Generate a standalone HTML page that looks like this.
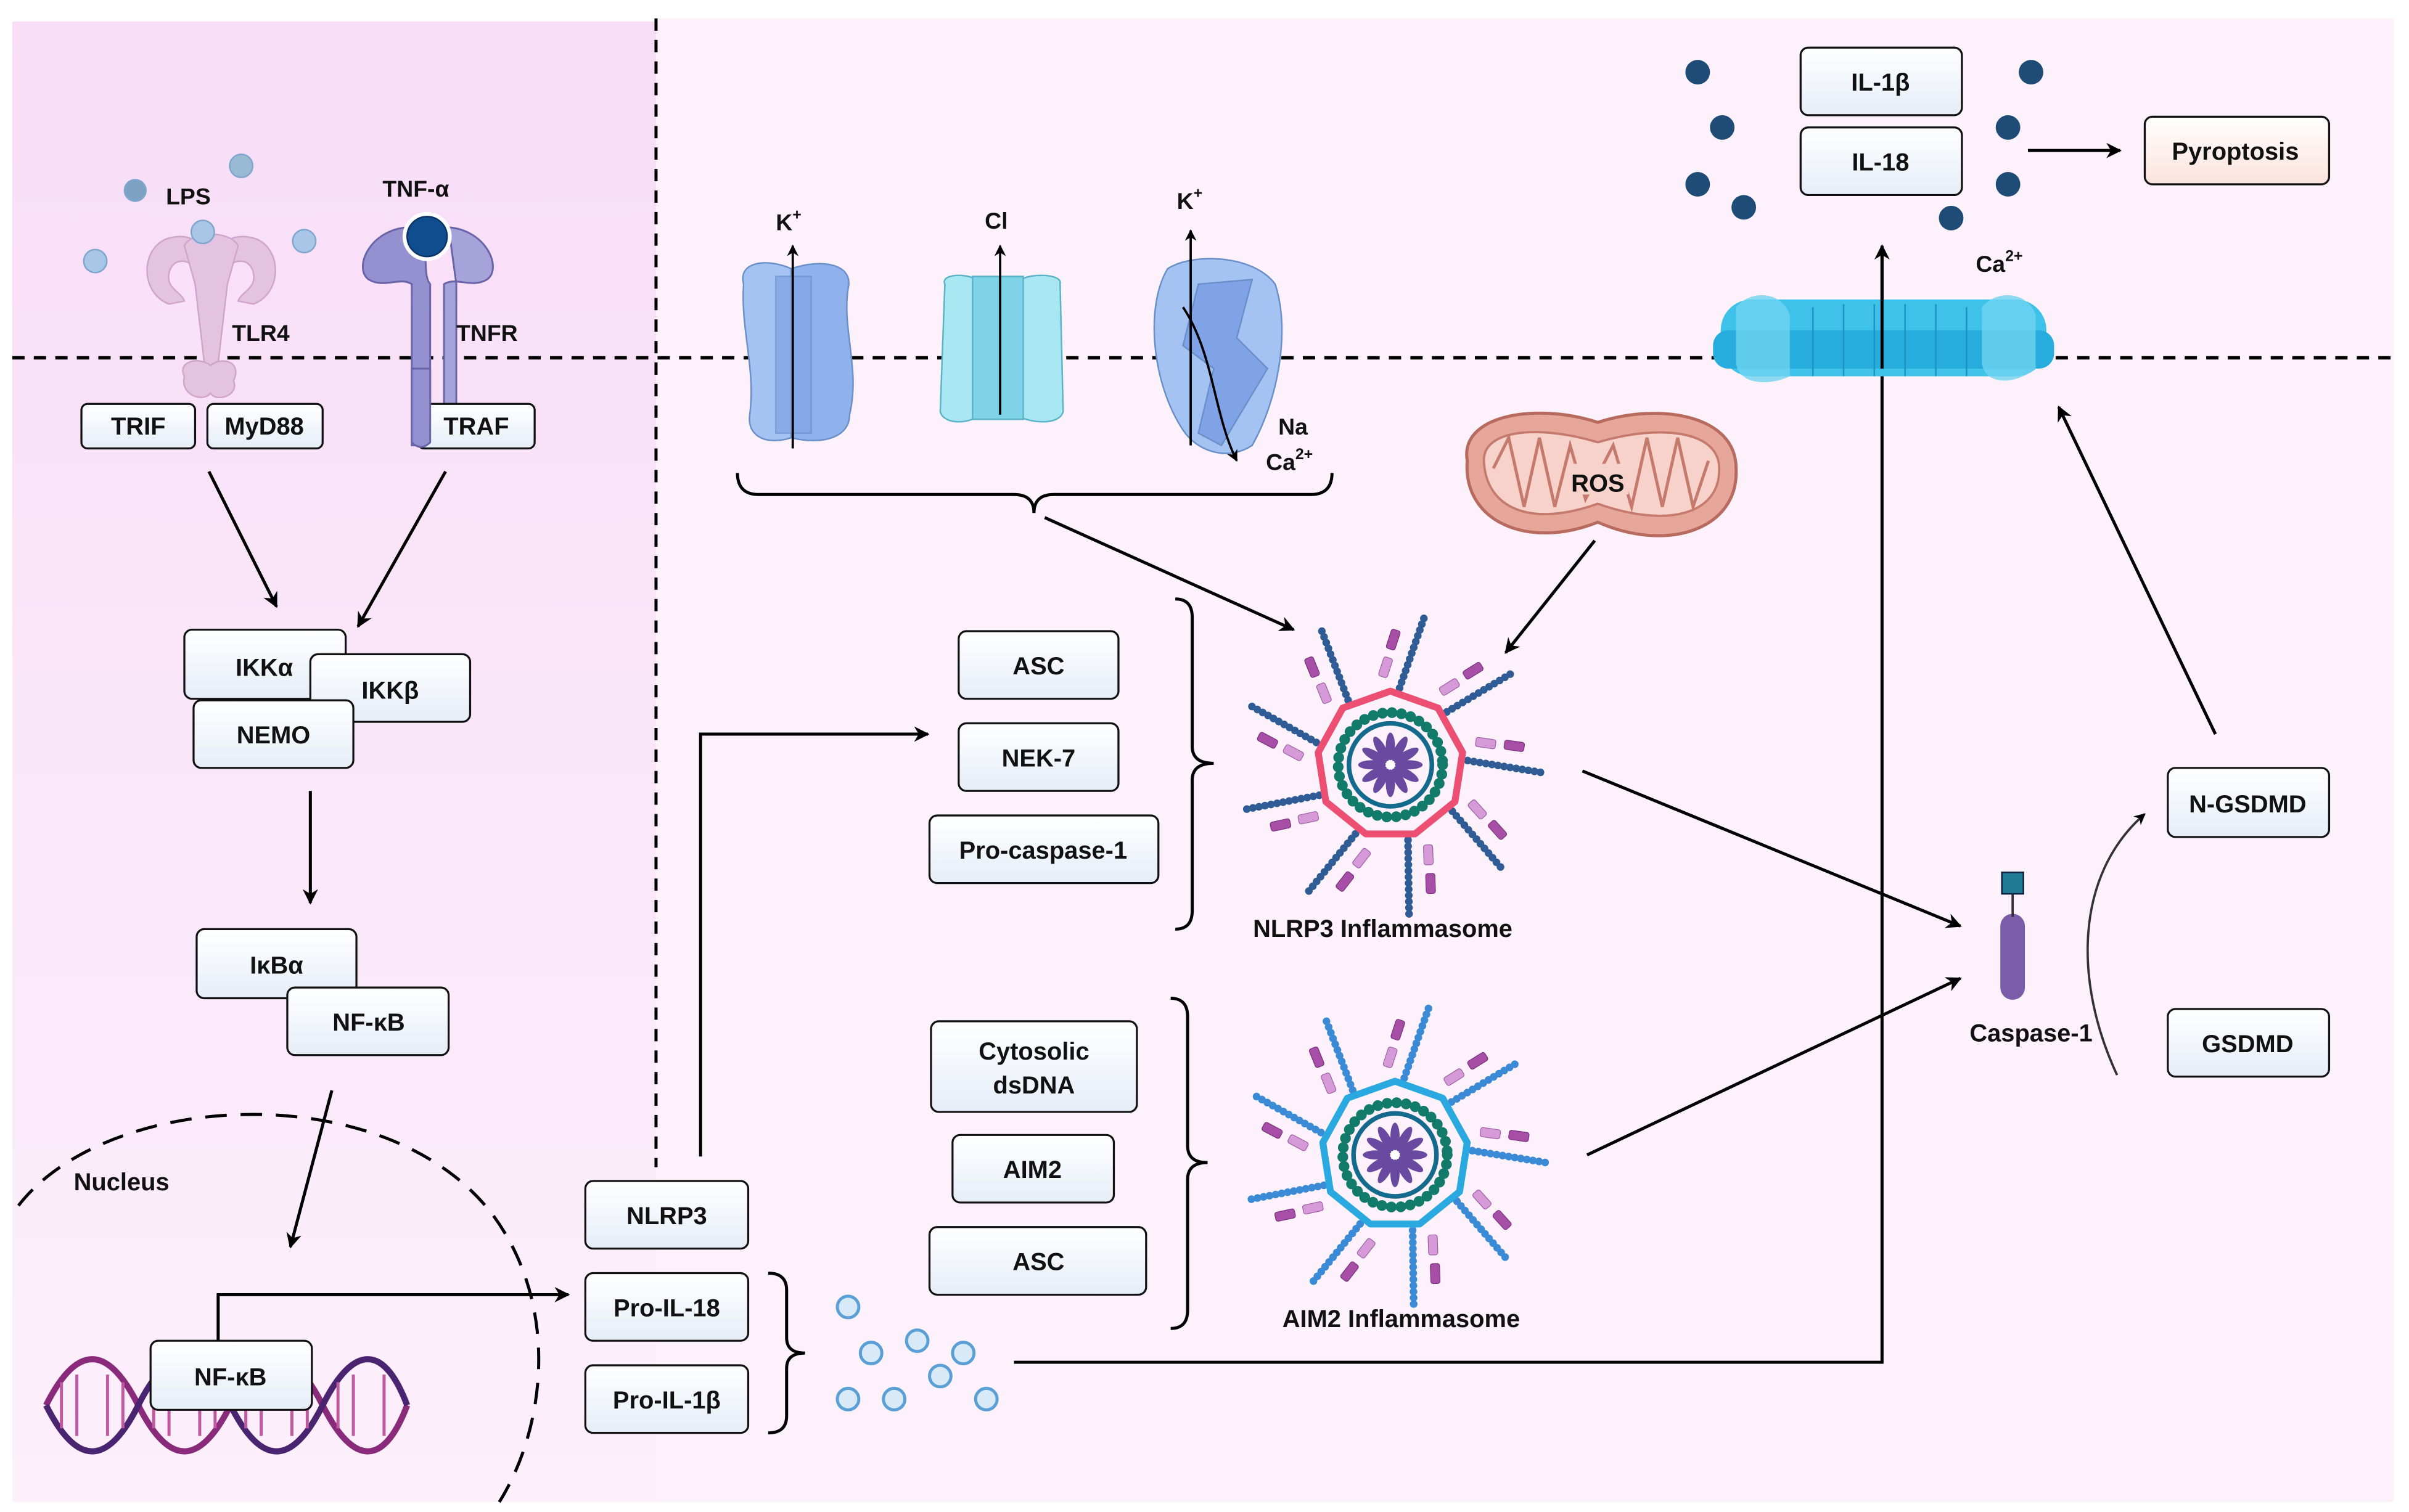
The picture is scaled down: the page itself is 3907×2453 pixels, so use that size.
<!DOCTYPE html>
<html><head><meta charset="utf-8"><style>
html,body{margin:0;padding:0;background:#fff;}
svg{display:block;}
text{font-family:"Liberation Sans",Arial,sans-serif;font-weight:bold;fill:#111;}
</style></head><body>
<svg width="3907" height="2453" viewBox="0 0 1568 984.5" preserveAspectRatio="none" xmlns="http://www.w3.org/2000/svg">
<defs>
<linearGradient id="lp" x1="0" y1="0" x2="0" y2="1"><stop offset="0" stop-color="#f8ddf7"/><stop offset="1" stop-color="#fcf0fb"/></linearGradient>
<linearGradient id="bx" x1="0" y1="0" x2="0" y2="1"><stop offset="0" stop-color="#ffffff"/><stop offset="1" stop-color="#e6edf8"/></linearGradient>
<linearGradient id="pk" x1="0" y1="0" x2="0" y2="1"><stop offset="0" stop-color="#ffffff"/><stop offset="1" stop-color="#fbe2dc"/></linearGradient>
<marker id="ar" viewBox="0 0 10 10" refX="9" refY="5" markerWidth="5" markerHeight="5" orient="auto-start-reverse"><path d="M0,0 L10,5 L0,10 L3,5z" fill="#000"/></marker>
<g id="rayN">
 <line x1="6" y1="-50" x2="22" y2="-96" stroke="#2f5c94" stroke-width="5" stroke-dasharray="0 4" stroke-linecap="round"/>
 <rect x="-6" y="-70" width="6" height="13" rx="1.5" fill="#d79ad8" stroke="#a060a8" stroke-width=".5" transform="rotate(18 -3 -64)"/>
 <rect x="-1" y="-88" width="6" height="13" rx="1.5" fill="#a74ea6" stroke="#7a3080" stroke-width=".5" transform="rotate(18 2 -82)"/>
</g>
<g id="rayA">
 <line x1="6" y1="-50" x2="22" y2="-96" stroke="#3b8ad6" stroke-width="5" stroke-dasharray="0 4" stroke-linecap="round"/>
 <rect x="-6" y="-70" width="6" height="13" rx="1.5" fill="#d79ad8" stroke="#a060a8" stroke-width=".5" transform="rotate(18 -3 -64)"/>
 <rect x="-1" y="-88" width="6" height="13" rx="1.5" fill="#a74ea6" stroke="#7a3080" stroke-width=".5" transform="rotate(18 2 -82)"/>
</g>
<g id="core">
 <circle r="34" fill="none" stroke="#127a6a" stroke-width="7" stroke-dasharray="0 6.2" stroke-linecap="round"/>
 <circle r="27" fill="none" stroke="#136a8c" stroke-width="3"/>
 <g fill="#6a4aa0">
  <ellipse cx="0" cy="-12" rx="3" ry="9"/><ellipse cx="0" cy="-12" rx="3" ry="9" transform="rotate(30)"/><ellipse cx="0" cy="-12" rx="3" ry="9" transform="rotate(60)"/><ellipse cx="0" cy="-12" rx="3" ry="9" transform="rotate(90)"/><ellipse cx="0" cy="-12" rx="3" ry="9" transform="rotate(120)"/><ellipse cx="0" cy="-12" rx="3" ry="9" transform="rotate(150)"/><ellipse cx="0" cy="-12" rx="3" ry="9" transform="rotate(180)"/><ellipse cx="0" cy="-12" rx="3" ry="9" transform="rotate(210)"/><ellipse cx="0" cy="-12" rx="3" ry="9" transform="rotate(240)"/><ellipse cx="0" cy="-12" rx="3" ry="9" transform="rotate(270)"/><ellipse cx="0" cy="-12" rx="3" ry="9" transform="rotate(300)"/><ellipse cx="0" cy="-12" rx="3" ry="9" transform="rotate(330)"/>
 </g>
 <circle r="3" fill="#fff"/>
</g>
</defs>

<rect width="1568" height="984.5" fill="#fff"/>
<rect x="427" y="12" width="1131" height="966" fill="#fdf1fb"/>
<rect x="8" y="14" width="419" height="964" fill="url(#lp)"/>

<line x1="8" y1="233" x2="1560" y2="233" stroke="#000" stroke-width="2.2" stroke-dasharray="8 6"/>
<line x1="427" y1="12" x2="427" y2="760" stroke="#000" stroke-width="2" stroke-dasharray="8 6"/>

<!-- LPS / TLR4 -->
<g fill="#e4c3e0" stroke="#cfa5cc" stroke-width="1">
 <path d="M110,198 C90,190 92,160 110,155 C130,150 135,165 128,175 C122,168 112,168 110,178 C108,188 118,190 120,196z"/>
 <path d="M165,198 C185,190 183,160 165,155 C145,150 140,165 147,175 C153,168 163,168 165,178 C167,188 157,190 155,196z"/>
 <path d="M120,160 C125,150 150,150 155,160 L148,185 L141,245 L134,245 L127,185z"/>
 <path d="M120,245 C115,235 130,232 137,238 C144,232 158,235 152,248 C156,258 140,262 137,256 C133,262 117,258 120,245z"/>
</g>
<g fill="#a9c6e6" stroke="#7ea6cf" stroke-width="1">
 <circle cx="88" cy="124" r="7" fill="#7ea3c2"/><circle cx="157" cy="108" r="7.5" fill="#9ab9d3"/>
 <circle cx="62" cy="170" r="7.5"/><circle cx="132" cy="151" r="7.5"/><circle cx="198" cy="157" r="7.5"/>
</g>
<text x="108" y="133" font-size="15">LPS</text>
<text x="151" y="222" font-size="15">TLR4</text>

<!-- TNFR -->
<g fill="#9590cf" stroke="#6a64a8" stroke-width="1.2">
 <path d="M265,148 C240,150 230,175 240,182 C250,188 260,180 268,185 L268,290 L280,290 L280,185 C276,180 278,172 276,160z"/>
 <path d="M292,148 C317,150 327,175 317,182 C307,188 297,180 289,185 L289,265 L297,265 L297,185z" fill="#a6a2da"/>
</g>
<circle cx="278" cy="154" r="16" fill="#fff"/>
<circle cx="278" cy="154" r="13" fill="#0f4d8e" stroke="#0a3466" stroke-width="1"/>
<text x="249" y="128" font-size="15">TNF-α</text>
<text x="297" y="222" font-size="15">TNFR</text>

<!-- DNA -->
<g fill="none" stroke-width="4">
 <path d="M30,915 C50,875 70,875 90,915 C110,955 130,955 150,915 C170,875 190,875 210,915 C230,955 250,955 265,915" stroke="#8a2a7a"/>
 <path d="M30,915 C50,955 70,955 90,915 C110,875 130,875 150,915 C170,955 190,955 210,915 C230,875 250,875 265,915" stroke="#4a2470"/>
</g>
<g stroke="#c05aa0" stroke-width="2">
 <line x1="40" y1="900" x2="40" y2="930"/><line x1="50" y1="895" x2="50" y2="935"/><line x1="70" y1="895" x2="70" y2="935"/><line x1="80" y1="900" x2="80" y2="930"/>
 <line x1="100" y1="900" x2="100" y2="930"/><line x1="110" y1="895" x2="110" y2="935"/><line x1="130" y1="895" x2="130" y2="935"/><line x1="140" y1="900" x2="140" y2="930"/>
 <line x1="160" y1="900" x2="160" y2="930"/><line x1="170" y1="895" x2="170" y2="935"/><line x1="190" y1="895" x2="190" y2="935"/><line x1="200" y1="900" x2="200" y2="930"/>
 <line x1="220" y1="900" x2="220" y2="930"/><line x1="230" y1="895" x2="230" y2="935"/><line x1="250" y1="895" x2="250" y2="935"/>
</g>

<!-- boxes -->
<g fill="url(#bx)" stroke="#111" stroke-width="1.3">
 <rect x="53" y="263" width="74" height="29" rx="4"/>
 <rect x="135" y="263" width="75" height="29" rx="4"/>
 <rect x="272" y="263" width="76" height="29" rx="4"/>
 <rect x="120" y="410" width="105" height="45" rx="5"/>
 <rect x="202" y="426" width="104" height="44" rx="5"/>
 <rect x="126" y="456" width="104" height="44" rx="5"/>
 <rect x="128" y="605" width="104" height="45" rx="5"/>
 <rect x="187" y="643" width="105" height="44" rx="5"/>
 <rect x="98" y="873" width="105" height="45" rx="5"/>
 <rect x="381" y="769" width="106" height="44" rx="5"/>
 <rect x="381" y="829" width="106" height="44" rx="5"/>
 <rect x="381" y="889" width="106" height="44" rx="5"/>
 <rect x="624" y="411" width="104" height="44" rx="5"/>
 <rect x="624" y="471" width="104" height="44" rx="5"/>
 <rect x="605" y="531" width="149" height="44" rx="5"/>
 <rect x="606" y="665" width="134" height="59" rx="5"/>
 <rect x="620" y="739" width="105" height="44" rx="5"/>
 <rect x="605" y="799" width="141" height="44" rx="5"/>
 <rect x="1172" y="31" width="105" height="44" rx="5"/>
 <rect x="1172" y="83" width="105" height="44" rx="5"/>
 <rect x="1396" y="76" width="120" height="44" rx="5" fill="url(#pk)"/>
 <rect x="1411" y="500" width="105" height="45" rx="5"/>
 <rect x="1411" y="657" width="105" height="44" rx="5"/>
</g>
<path d="M268,240 L268,288 Q274,294 280,288 L280,240z" fill="#9590cf" stroke="#6a64a8" stroke-width="1.2"/>

<g font-size="16" text-anchor="middle">
 <text x="90" y="283">TRIF</text>
 <text x="172" y="283">MyD88</text>
 <text x="310" y="283">TRAF</text>
 <text x="172" y="440">IKKα</text>
 <text x="254" y="455">IKKβ</text>
 <text x="178" y="484">NEMO</text>
 <text x="180" y="634">IκBα</text>
 <text x="240" y="671">NF-κB</text>
 <text x="150" y="902">NF-κB</text>
 <text x="434" y="797">NLRP3</text>
 <text x="434" y="857">Pro-IL-18</text>
 <text x="434" y="917">Pro-IL-1β</text>
 <text x="676" y="439">ASC</text>
 <text x="676" y="499">NEK-7</text>
 <text x="679" y="559">Pro-caspase-1</text>
 <text x="673" y="690">Cytosolic</text>
 <text x="673" y="712">dsDNA</text>
 <text x="672" y="767">AIM2</text>
 <text x="676" y="827">ASC</text>
 <text x="1224" y="59">IL-1β</text>
 <text x="1224" y="111">IL-18</text>
 <text x="1455" y="104">Pyroptosis</text>
 <text x="1463" y="529">N-GSDMD</text>
 <text x="1463" y="685">GSDMD</text>
 <text x="900" y="610">NLRP3 Inflammasome</text>
 <text x="912" y="864">AIM2 Inflammasome</text>
 <text x="1322" y="678">Caspase-1</text>
</g>
<text x="48" y="775" font-size="16">Nucleus</text>

<!-- nucleus -->
<path d="M12,785 C70,710 250,700 320,790 C365,850 355,930 325,978" fill="none" stroke="#000" stroke-width="2" stroke-dasharray="14 9"/>

<!-- arrows -->
<g stroke="#000" stroke-width="2" fill="none" marker-end="url(#ar)">
 <line x1="136" y1="307" x2="180" y2="395"/>
 <line x1="290" y1="307" x2="233" y2="408"/>
 <line x1="202" y1="515" x2="202" y2="588"/>
 <line x1="216" y1="710" x2="189" y2="812"/>
 <polyline points="142,873 142,843 370,843"/>
 <polyline points="456,753 456,478 604,478"/>
 <line x1="680" y1="337" x2="842" y2="410"/>
 <line x1="1038" y1="352" x2="980" y2="425"/>
 <line x1="1030" y1="502" x2="1276" y2="603"/>
 <line x1="1033" y1="752" x2="1276" y2="637"/>
 <polyline points="660,887 1225,887 1225,160"/>
 <line x1="1320" y1="98" x2="1380" y2="98"/>
 <line x1="1442" y1="478" x2="1340" y2="265"/>
</g>
<path d="M1378,700 C1350,640 1350,570 1396,530" stroke="#333" stroke-width="1.5" fill="none" marker-end="url(#ar)"/>

<!-- braces -->
<g stroke="#000" stroke-width="2" fill="none">
 <path d="M480,308 Q480,322 494,322 L660,322 Q673,322 673,334 Q673,322 686,322 L853,322 Q867,322 867,308"/>
 <path d="M765,390 Q776,390 776,402 L776,486 Q776,497 790,497 Q776,497 776,508 L776,593 Q776,605 765,605"/>
 <path d="M762,650 Q773,650 773,662 L773,746 Q773,757 786,757 Q773,757 773,768 L773,853 Q773,865 762,865"/>
 <path d="M500,829 Q512,829 512,840 L512,871 Q512,881 524,881 Q512,881 512,891 L512,922 Q512,933 500,933"/>
</g>

<!-- channels -->
<g stroke="#6b8fc9" stroke-width="1">
 <path d="M484,185 C480,170 500,168 515,175 L515,285 C500,290 486,285 488,270 C492,240 482,215 484,185z" fill="#a4c3f2"/>
 <path d="M515,175 C535,168 556,172 552,188 C548,215 560,240 553,270 C553,285 535,290 515,285z" fill="#8fb2ec"/>
 <path d="M505,180 L528,180 L528,282 L505,282z" fill="#7fa3e6" opacity=".7"/>
</g>
<g stroke="#5bb3c8" stroke-width="1">
 <path d="M615,185 C612,178 630,178 635,182 L635,272 C628,276 614,276 612,268z" fill="#a9e8f3"/>
 <path d="M665,182 C670,178 692,178 690,185 L692,268 C690,276 675,276 665,272z" fill="#a9e8f3"/>
 <rect x="633" y="180" width="33" height="93" fill="#7fd3e8"/>
</g>
<g stroke="#6b8fc9" stroke-width="1">
 <path d="M760,175 C775,165 815,165 830,185 C840,215 832,260 815,290 C800,300 780,295 770,280 C750,250 745,200 760,175z" fill="#a4c3f2"/>
 <path d="M780,185 L815,182 L805,220 L825,240 L795,290 L780,282 L790,240 L770,225z" fill="#7fa3e6"/>
</g>
<g stroke="#000" stroke-width="1.5" fill="none" marker-end="url(#ar)">
 <line x1="516" y1="292" x2="516" y2="160"/>
 <line x1="651" y1="270" x2="651" y2="160"/>
 <path d="M775,290 L775,150"/>
 <path d="M770,200 C790,230 790,270 805,300"/>
</g>
<text x="505" y="150" font-size="15">K<tspan font-size="10" dy="-7">+</tspan></text>
<text x="641" y="149" font-size="15">Cl</text>
<text x="766" y="136" font-size="15">K<tspan font-size="10" dy="-7">+</tspan></text>
<text x="832" y="283" font-size="15">Na</text>
<text x="824" y="306" font-size="15">Ca<tspan font-size="10" dy="-7">2+</tspan></text>

<!-- mitochondrion (bean) -->
<path d="M955,300 C950,270 1000,262 1040,275 C1080,262 1130,270 1130,305 C1132,345 1085,360 1040,340 C995,358 952,340 955,300z" fill="#e6a69a" stroke="#b86a5e" stroke-width="2"/>
<path d="M966,302 C963,280 1000,276 1040,288 C1080,276 1120,280 1119,306 C1119,335 1085,344 1040,328 C995,344 968,330 966,302z" fill="#f6d2ca" stroke="#c57a6d" stroke-width="1.5"/>
<path d="M972,305 L982,285 L992,330 L1002,285 L1012,330 L1022,290 L1032,325 L1050,290 L1062,330 L1072,285 L1082,330 L1092,285 L1102,330 L1112,300" fill="none" stroke="#c57a6d" stroke-width="2"/>
<rect x="1020" y="302" width="40" height="20" fill="#f6d2ca"/>
<text x="1040" y="320" font-size="16" text-anchor="middle">ROS</text>

<!-- membrane pore -->
<g>
 <rect x="1120" y="195" width="212" height="50" rx="20" fill="#3ec2ea"/>
 <rect x="1115" y="215" width="222" height="25" rx="10" fill="#27addd"/>
 <path d="M1130,200 C1140,188 1160,190 1165,205 L1165,245 C1150,252 1130,250 1130,235z" fill="#6fd3f0" opacity=".8"/>
 <path d="M1290,200 C1300,188 1320,190 1325,205 L1325,240 C1310,252 1290,250 1290,235z" fill="#6fd3f0" opacity=".8"/>
 <g stroke="#1b93c4" stroke-width="1">
  <line x1="1180" y1="200" x2="1180" y2="245"/><line x1="1200" y1="198" x2="1200" y2="245"/><line x1="1220" y1="198" x2="1220" y2="245"/><line x1="1240" y1="198" x2="1240" y2="245"/><line x1="1260" y1="198" x2="1260" y2="245"/><line x1="1280" y1="200" x2="1280" y2="245"/>
 </g>
</g>
<line x1="1225" y1="240" x2="1225" y2="165" stroke="#000" stroke-width="2"/>
<text x="1286" y="177" font-size="15">Ca<tspan font-size="10" dy="-7">2+</tspan></text>

<g fill="#1f4c76">
 <circle cx="1105" cy="47" r="8"/><circle cx="1121" cy="83" r="8"/><circle cx="1105" cy="120" r="8"/><circle cx="1135" cy="135" r="8"/>
 <circle cx="1322" cy="47" r="8"/><circle cx="1307" cy="83" r="8"/><circle cx="1307" cy="120" r="8"/><circle cx="1270" cy="142" r="8"/>
</g>
<g fill="#d8e9f8" stroke="#5a9fd6" stroke-width="2">
 <circle cx="552" cy="851" r="7"/><circle cx="567" cy="881" r="7"/><circle cx="597" cy="873" r="7"/><circle cx="627" cy="881" r="7"/>
 <circle cx="552" cy="911" r="7"/><circle cx="582" cy="911" r="7"/><circle cx="612" cy="896" r="7"/><circle cx="642" cy="911" r="7"/>
</g>

<rect x="1302" y="595" width="16" height="56" rx="8" fill="#7a5ca8"/>
<line x1="1310" y1="582" x2="1310" y2="597" stroke="#333" stroke-width="1.5"/>
<rect x="1303" y="568" width="14" height="14" fill="#1f7a95" stroke="#124" stroke-width="1"/>

<g transform="translate(905,498)">
 <use href="#rayN"/><use href="#rayN" transform="rotate(40)"/><use href="#rayN" transform="rotate(80)"/><use href="#rayN" transform="rotate(120)"/><use href="#rayN" transform="rotate(160)"/><use href="#rayN" transform="rotate(200)"/><use href="#rayN" transform="rotate(240)"/><use href="#rayN" transform="rotate(280)"/><use href="#rayN" transform="rotate(320)"/>
 <polygon points="0,-48 31,-37 47,-8 42,24 16,45 -16,45 -42,24 -47,-8 -31,-37" fill="none" stroke="#ec4f72" stroke-width="4.5" stroke-linejoin="round"/>
 <use href="#core"/>
</g>
<g transform="translate(908,752)">
 <use href="#rayA"/><use href="#rayA" transform="rotate(40)"/><use href="#rayA" transform="rotate(80)"/><use href="#rayA" transform="rotate(120)"/><use href="#rayA" transform="rotate(160)"/><use href="#rayA" transform="rotate(200)"/><use href="#rayA" transform="rotate(240)"/><use href="#rayA" transform="rotate(280)"/><use href="#rayA" transform="rotate(320)"/>
 <polygon points="0,-48 31,-37 47,-8 42,24 16,45 -16,45 -42,24 -47,-8 -31,-37" fill="none" stroke="#2aa8e0" stroke-width="4.5" stroke-linejoin="round"/>
 <use href="#core"/>
</g>
</svg>
</body></html>
